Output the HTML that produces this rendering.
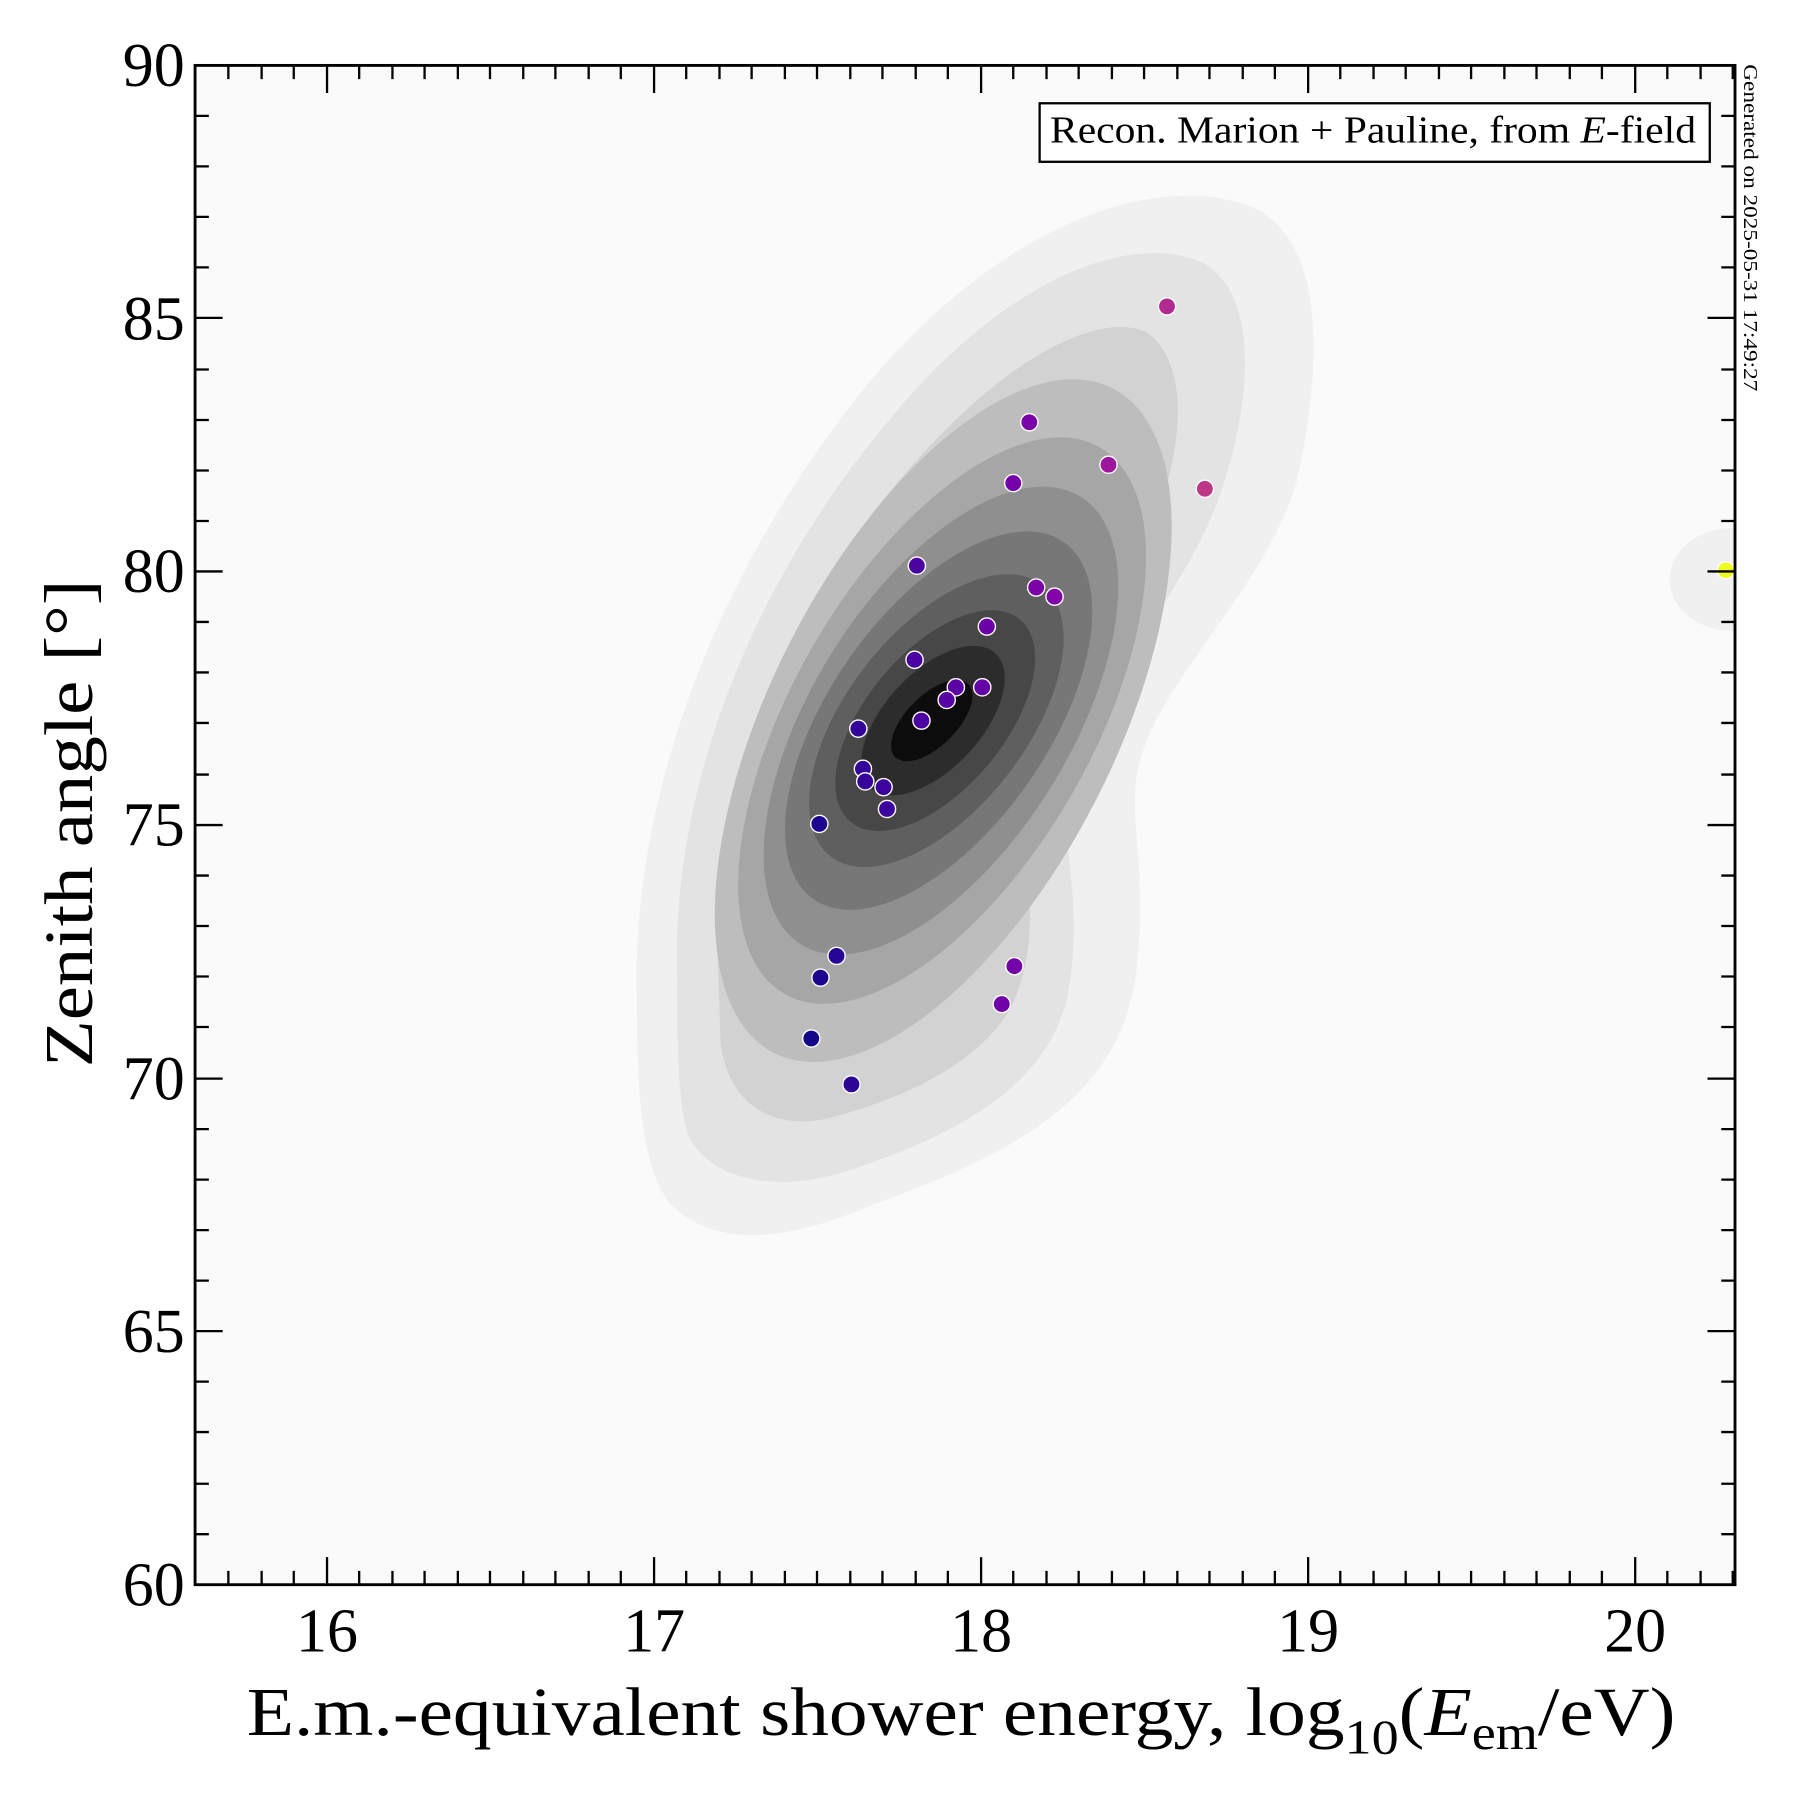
<!DOCTYPE html>
<html><head><meta charset="utf-8"><style>html,body{margin:0;padding:0;background:#fff}</style></head>
<body>
<svg width="1800" height="1800" viewBox="0 0 1800 1800" xmlns="http://www.w3.org/2000/svg" font-family="Liberation Serif, serif">
<g transform="scale(1.1475)">
<rect x="170" y="57" width="1342" height="1324" fill="#fafafa"/>
<defs><clipPath id="c"><rect x="170" y="57" width="1342" height="1324"/></clipPath></defs>
<g clip-path="url(#c)">
<ellipse cx="1510" cy="505" rx="55" ry="45" fill="#f0f0f0"/>
<path fill="#f0f0f0" d="M 555,870 C 550,700 620,500 760,330 C 880,190 1010,150 1090,180 C 1160,210 1150,330 1130,420 C 1100,520 1000,600 990,680 C 985,720 1000,760 990,850 C 975,950 900,1000 760,1050 C 680,1085 620,1085 585,1050 C 560,1020 555,960 555,870 Z"/>
<path fill="#e3e3e3" d="M 590,850 C 585,680 660,500 780,360 C 880,240 990,200 1050,230 C 1100,260 1090,360 1060,440 C 1020,540 940,610 930,690 C 925,740 945,790 930,870 C 910,950 830,990 740,1020 C 680,1040 620,1030 600,990 C 590,960 590,900 590,850 Z"/>
<path fill="#d2d2d2" d="M 625,820 C 625,680 690,520 800,400 C 880,310 960,270 1000,290 C 1040,320 1030,400 1000,470 C 960,560 900,620 895,700 C 892,760 910,820 880,880 C 850,930 780,960 720,975 C 670,985 635,960 628,910 Z"/>
<ellipse cx="822" cy="628" rx="325" ry="150" transform="rotate(-63 822 628)" fill="#bdbdbd"/>
<ellipse cx="821" cy="628" rx="275" ry="130" transform="rotate(-60 821 628)" fill="#a6a6a6"/>
<ellipse cx="820" cy="628" rx="230" ry="112" transform="rotate(-58 820 628)" fill="#8f8f8f"/>
<ellipse cx="818" cy="628" rx="190" ry="95" transform="rotate(-55 818 628)" fill="#777"/>
<ellipse cx="816" cy="628" rx="150" ry="78" transform="rotate(-52 816 628)" fill="#5f5f5f"/>
<ellipse cx="815" cy="628" rx="115" ry="60" transform="rotate(-50 815 628)" fill="#474747"/>
<ellipse cx="813" cy="628" rx="80" ry="42" transform="rotate(-47 813 628)" fill="#2c2c2c"/>
<ellipse cx="812" cy="628" rx="45" ry="22" transform="rotate(-45 812 628)" fill="#0c0c0c"/>
<g stroke="#fff" stroke-width="1.2">
<circle cx="1017" cy="267" r="7.5" fill="#b12a90"/>
<circle cx="897" cy="368" r="7.5" fill="#7a02a8"/>
<circle cx="966" cy="405" r="7.5" fill="#9c179e"/>
<circle cx="1050" cy="426" r="7.5" fill="#bd3786"/>
<circle cx="883" cy="421" r="7.5" fill="#7501a8"/>
<circle cx="799" cy="493" r="7.5" fill="#4a02a0"/>
<circle cx="903" cy="512" r="7.5" fill="#7c02a8"/>
<circle cx="919" cy="520" r="7.5" fill="#8104a7"/>
<circle cx="860" cy="546" r="7.5" fill="#6a00a8"/>
<circle cx="797" cy="575" r="7.5" fill="#4903a0"/>
<circle cx="833" cy="599" r="7.5" fill="#5b01a5"/>
<circle cx="856" cy="599" r="7.5" fill="#6500a7"/>
<circle cx="825" cy="610" r="7.5" fill="#5702a4"/>
<circle cx="803" cy="628" r="7.5" fill="#4c02a1"/>
<circle cx="748" cy="635" r="7.5" fill="#33059a"/>
<circle cx="752" cy="670" r="7.5" fill="#35049b"/>
<circle cx="754" cy="681" r="7.5" fill="#36049b"/>
<circle cx="770" cy="686" r="7.5" fill="#3c049d"/>
<circle cx="773" cy="705" r="7.5" fill="#3d049d"/>
<circle cx="714" cy="718" r="7.5" fill="#1c068f"/>
<circle cx="884" cy="842" r="7.5" fill="#7501a8"/>
<circle cx="729" cy="833" r="7.5" fill="#270695"/>
<circle cx="715" cy="852" r="7.5" fill="#1d068f"/>
<circle cx="873" cy="875" r="7.5" fill="#7101a8"/>
<circle cx="707" cy="905" r="7.5" fill="#13078a"/>
<circle cx="742" cy="945" r="7.5" fill="#2c0597"/>
<circle cx="1504" cy="497" r="7.5" fill="#f0f921"/>
</g>
</g>
<rect x="170" y="57" width="1342" height="1324" fill="none" stroke="#000" stroke-width="2.5"/>
<g stroke="#000" stroke-width="2">
<path id="xt" d="M199,1381v-12M228,1381v-12M256,1381v-12M285,1381v-24M313,1381v-12M342,1381v-12M370,1381v-12M399,1381v-12M427,1381v-12M456,1381v-12M484,1381v-12M513,1381v-12M541,1381v-12M570,1381v-24M598,1381v-12M627,1381v-12M655,1381v-12M684,1381v-12M712,1381v-12M741,1381v-12M769,1381v-12M798,1381v-12M826,1381v-12M855,1381v-24M883,1381v-12M912,1381v-12M940,1381v-12M969,1381v-12M997,1381v-12M1026,1381v-12M1054,1381v-12M1083,1381v-12M1111,1381v-12M1140,1381v-24M1168,1381v-12M1197,1381v-12M1225,1381v-12M1254,1381v-12M1282,1381v-12M1311,1381v-12M1339,1381v-12M1368,1381v-12M1396,1381v-12M1425,1381v-24M1453,1381v-12M1482,1381v-12M1510,1381v-12"/>
<use href="#xt" transform="translate(0,1438) scale(1,-1)"/>
<path id="yt" d="M170,101h12M170,145h12M170,189h12M170,233h12M170,277h24M170,322h12M170,366h12M170,410h12M170,454h12M170,498h24M170,542h12M170,586h12M170,630h12M170,675h12M170,719h24M170,763h12M170,807h12M170,851h12M170,895h12M170,940h24M170,984h12M170,1028h12M170,1072h12M170,1116h12M170,1160h24M170,1204h12M170,1248h12M170,1293h12M170,1337h12"/>
<use href="#yt" transform="translate(1682,0) scale(-1,1)"/>
</g>
<g font-size="54" text-anchor="end" fill="#000">
<text x="161" y="75">90</text><text x="161" y="296">85</text><text x="161" y="516">80</text><text x="161" y="737">75</text><text x="161" y="958">70</text><text x="161" y="1178">65</text><text x="161" y="1399">60</text>
</g>
<g font-size="54" text-anchor="middle" fill="#000">
<text x="285" y="1439">16</text><text x="570" y="1439">17</text><text x="855" y="1439">18</text><text x="1140" y="1439">19</text><text x="1425" y="1439">20</text>
</g>
<text x="215" y="1512" font-size="60" textLength="1245" lengthAdjust="spacingAndGlyphs">E.m.-equivalent shower energy, log<tspan font-size="42" dy="16">10</tspan><tspan dy="-16">(</tspan><tspan font-style="italic">E</tspan><tspan font-size="42" dy="12">em</tspan><tspan dy="-12">/eV)</tspan></text>
<text transform="translate(80,930) rotate(-90)" font-size="60" textLength="425" lengthAdjust="spacingAndGlyphs">Zenith angle [°]</text>
<rect x="906" y="90" width="584" height="51" fill="#fff" stroke="#000" stroke-width="2"/>
<text x="915" y="124" font-size="33" textLength="563" lengthAdjust="spacingAndGlyphs">Recon. Marion + Pauline, from <tspan font-style="italic">E</tspan>-field</text>
<text transform="translate(1520,56) rotate(90)" font-size="17" textLength="285" lengthAdjust="spacingAndGlyphs">Generated on 2025-05-31 17:49:27</text>
</g>
</svg>
</body></html>
